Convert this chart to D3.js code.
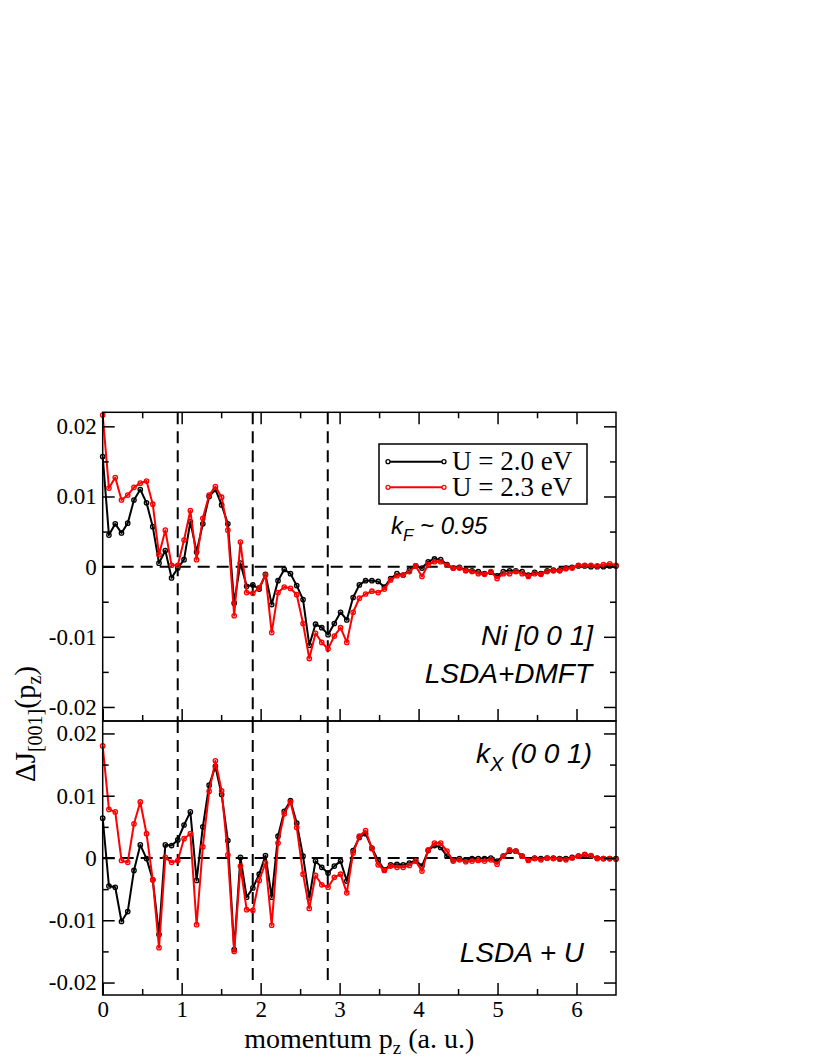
<!DOCTYPE html>
<html>
<head>
<meta charset="utf-8">
<script src="https://cdn.jsdelivr.net/npm/d3@7/dist/d3.min.js"></script>
<style>
  html, body { margin: 0; padding: 0; background: #fff; }
  svg { display: block; }
</style>
</head>
<body>
<svg id="chart" width="822" height="1064"></svg>
<script>
// ---------- data ----------
const pz = [0,0.079,0.159,0.238,0.317,0.396,0.476,0.555,0.634,0.713,0.793,0.872,0.951,1.030,1.110,1.189,1.268,1.348,1.427,1.506,1.585,1.665,1.744,1.823,1.902,1.982,2.061,2.140,2.220,2.299,2.378,2.457,2.537,2.616,2.695,2.774,2.854,2.933,3.012,3.091,3.171,3.250,3.329,3.409,3.488,3.567,3.646,3.726,3.805,3.884,3.963,4.043,4.122,4.201,4.280,4.360,4.439,4.518,4.598,4.677,4.756,4.835,4.915,4.994,5.073,5.152,5.232,5.311,5.390,5.470,5.549,5.628,5.707,5.787,5.866,5.945,6.024,6.104,6.183,6.262,6.341,6.421,6.500];

// top panel (LSDA+DMFT)
const dmftU20 = [0.0157,0.0045,0.0061,0.0048,0.0062,0.0095,0.0110,0.0091,0.0057,0.0005,0.0023,-0.0016,-0.0002,0.0010,0.0064,0.0021,0.0061,0.0100,0.0110,0.0088,0.0061,-0.0052,0.0005,-0.0028,-0.0026,-0.0032,-0.0011,-0.0054,-0.0020,-0.0004,-0.0010,-0.0027,-0.0047,-0.0112,-0.0082,-0.0087,-0.0097,-0.0081,-0.0065,-0.0076,-0.0044,-0.0026,-0.0020,-0.0020,-0.0021,-0.0029,-0.0017,-0.0010,-0.0012,-0.0005,0.0001,-0.0002,0.0007,0.0011,0.0010,0.0003,-0.0002,-0.0001,-0.0005,-0.0006,-0.0007,-0.0010,-0.0008,-0.0013,-0.0007,-0.0006,-0.0006,-0.0007,-0.0012,-0.0008,-0.0010,-0.0006,-0.0005,-0.0005,-0.0002,-0.0001,0.0001,0.0001,0.0000,0.0000,0.0000,0.0001,0.0001];
const dmftU23 = [0.0216,0.0112,0.0127,0.0095,0.0102,0.0113,0.0119,0.0122,0.0089,0.0017,0.0052,0.0002,0.0002,0.0038,0.0080,0.0010,0.0069,0.0102,0.0114,0.0099,0.0052,-0.0070,0.0035,-0.0037,-0.0038,-0.0030,-0.0012,-0.0094,-0.0037,-0.0029,-0.0031,-0.0040,-0.0081,-0.0131,-0.0095,-0.0108,-0.0117,-0.0099,-0.0087,-0.0108,-0.0065,-0.0045,-0.0039,-0.0035,-0.0037,-0.0032,-0.0019,-0.0013,-0.0012,-0.0007,0.0001,-0.0014,0.0003,0.0007,0.0007,0.0002,-0.0002,-0.0002,-0.0006,-0.0007,-0.0010,-0.0011,-0.0007,-0.0017,-0.0010,-0.0010,-0.0007,-0.0010,-0.0014,-0.0010,-0.0011,-0.0007,-0.0006,-0.0006,-0.0003,-0.0002,0.0002,0.0002,0.0002,0.0001,0.0003,0.0004,0.0002];

// bottom panel (LSDA + U)
const ldauU20 = [0.0064,-0.0045,-0.0047,-0.0102,-0.0086,-0.0020,0.0021,-0.0001,-0.0035,-0.0123,0.0021,0.0020,0.0029,0.0053,0.0074,-0.0036,0.0050,0.0117,0.0147,0.0102,0.0028,-0.0147,0.0001,-0.0063,-0.0048,-0.0026,0.0004,-0.0063,0.0035,0.0075,0.0092,0.0056,0.0003,-0.0064,-0.0005,-0.0015,-0.0024,-0.0013,-0.0005,-0.0037,0.0012,0.0033,0.0039,0.0016,-0.0004,-0.0019,-0.0011,-0.0010,-0.0011,-0.0008,-0.0004,-0.0013,0.0012,0.0020,0.0017,0.0003,-0.0003,-0.0001,-0.0003,-0.0001,-0.0001,-0.0001,0.0000,-0.0005,0.0003,0.0011,0.0011,0.0003,-0.0003,0.0000,-0.0001,0.0000,0.0000,-0.0001,-0.0001,0.0001,0.0003,0.0005,0.0003,0.0000,-0.0001,-0.0001,-0.0001];
const ldauU23 = [0.0180,0.0078,0.0074,-0.0004,-0.0007,0.0055,0.0090,0.0039,-0.0035,-0.0144,0.0001,-0.0007,-0.0004,0.0031,0.0039,-0.0107,0.0018,0.0107,0.0156,0.0108,0.0005,-0.0150,-0.0013,-0.0083,-0.0084,-0.0036,-0.0008,-0.0108,0.0024,0.0071,0.0090,0.0049,-0.0026,-0.0081,-0.0028,-0.0043,-0.0047,-0.0031,-0.0026,-0.0056,0.0008,0.0035,0.0044,0.0015,-0.0011,-0.0020,-0.0013,-0.0015,-0.0015,-0.0012,-0.0005,-0.0021,0.0013,0.0024,0.0024,0.0011,-0.0005,-0.0003,-0.0006,-0.0005,-0.0004,-0.0005,-0.0003,-0.0010,0.0003,0.0013,0.0011,0.0003,-0.0004,-0.0001,-0.0003,0.0000,-0.0001,-0.0002,-0.0003,0.0000,0.0003,0.0006,0.0004,-0.0001,-0.0001,-0.0001,-0.0002];

const seriesNames = ["U = 2.0 eV", "U = 2.3 eV"];
const seriesColors = ["#000000", "#ff0000"];
const kFLines = [0.95, 1.90, 2.85];
const xMajorTicks = [0, 1, 2, 3, 4, 5, 6];
const xMinorTicks = [0.5, 1.5, 2.5, 3.5, 4.5, 5.5];
const yMajorTicks = [-0.02, -0.01, 0, 0.01, 0.02];
const yMajorLabels = ["-0.02", "-0.01", "0", "0.01", "0.02"];
const yMinorTicks = [-0.015, -0.005, 0.005, 0.015];
const xTickLabels = ["0", "1", "2", "3", "4", "5", "6"];

// ---------- layout ----------
const svg = d3.select("#chart");
svg.append("rect").attr("width", 822).attr("height", 1064).attr("fill", "#fff");

const L = 102.7, R = 616;
const x = d3.scaleLinear().domain([0, 6.5]).range([L, R]);
const panels = [
  { y: d3.scaleLinear().domain([-0.022, 0.022]).range([721, 412.3]), series: [dmftU20, dmftU23], vEnd: -0.022, xlabels: false, topTicks: true },
  { y: d3.scaleLinear().domain([-0.022, 0.022]).range([995, 721]), series: [ldauU20, ldauU23], vEnd: -0.02, xlabels: true, topTicks: false }
];

const serif = "'Liberation Serif', 'Times New Roman', Times, serif";
const sans = "'Liberation Sans', Arial, Helvetica, sans-serif";
const MAJ = 12, MIN = 6;

function styleAxis(g) {
  g.style("font-family", serif);
  g.select(".domain").remove();
  g.selectAll(".tick line").attr("stroke", "#000").attr("stroke-width", 1.5);
  g.selectAll(".tick text").style("font-family", serif).style("font-size", "23px").attr("fill", "#000");
}

panels.forEach((p) => {
  const y = p.y;
  const top = y.range()[1], bot = y.range()[0];
  const g = svg.append("g");

  // dashed reference lines
  g.append("line").attr("x1", x(0)).attr("x2", x(6.5)).attr("y1", y(0)).attr("y2", y(0))
    .attr("stroke", "#000").attr("stroke-width", 2).attr("stroke-dasharray", "12,7");
  kFLines.forEach(k => {
    g.append("line").attr("x1", x(k)).attr("x2", x(k)).attr("y1", y(0.022)).attr("y2", y(p.vEnd))
      .attr("stroke", "#000").attr("stroke-width", 2).attr("stroke-dasharray", "12,7");
  });

  // series
  const line = d3.line().x((d, i) => x(pz[i])).y(d => y(d));
  p.series.forEach((s, si) => {
    g.append("path").datum(s).attr("d", line).attr("fill", "none")
      .attr("stroke", seriesColors[si]).attr("stroke-width", 2).attr("stroke-linejoin", "round");
    g.selectAll(null).data(s).enter().append("circle")
      .attr("cx", (d, i) => x(pz[i])).attr("cy", d => y(d)).attr("r", 2.2)
      .attr("fill", "none").attr("stroke", seriesColors[si]).attr("stroke-width", 1.3);
  });

  // axes: left
  g.append("g").attr("transform", `translate(${L},0)`)
    .call(d3.axisLeft(y).tickValues(yMinorTicks).tickFormat("").tickSize(-MIN)).call(styleAxis);
  g.append("g").attr("transform", `translate(${L},0)`)
    .call(d3.axisLeft(y).tickValues(yMajorTicks).tickFormat((d, i) => yMajorLabels[i]).tickSize(-MAJ).tickPadding(6)).call(styleAxis);
  // right
  g.append("g").attr("transform", `translate(${R},0)`)
    .call(d3.axisRight(y).tickValues(yMinorTicks).tickFormat("").tickSize(-MIN)).call(styleAxis);
  g.append("g").attr("transform", `translate(${R},0)`)
    .call(d3.axisRight(y).tickValues(yMajorTicks).tickFormat("").tickSize(-MAJ)).call(styleAxis);
  // bottom
  g.append("g").attr("transform", `translate(0,${bot})`)
    .call(d3.axisBottom(x).tickValues(xMinorTicks).tickFormat("").tickSize(-MIN)).call(styleAxis);
  const bx = g.append("g").attr("transform", `translate(0,${bot})`)
    .call(d3.axisBottom(x).tickValues(xMajorTicks).tickFormat((d, i) => p.xlabels ? xTickLabels[i] : "").tickSize(-MAJ).tickPadding(6)).call(styleAxis);
  if (!p.xlabels) bx.selectAll(".tick text").remove();
  if (p.topTicks) {
    g.append("g").attr("transform", `translate(0,${top})`)
      .call(d3.axisTop(x).tickValues(xMinorTicks).tickFormat("").tickSize(-MIN)).call(styleAxis);
    g.append("g").attr("transform", `translate(0,${top})`)
      .call(d3.axisTop(x).tickValues(xMajorTicks).tickFormat("").tickSize(-MAJ)).call(styleAxis);
  }
  g.selectAll(".tick text").filter(function () { return this.textContent === ""; }).remove();

  // frame
  g.append("rect").attr("x", L).attr("y", top).attr("width", R - L).attr("height", bot - top)
    .attr("fill", "none").attr("stroke", "#000").attr("stroke-width", 1.5);
});

// ---------- legend ----------
const lg = svg.append("g");
lg.append("rect").attr("x", 379).attr("y", 444).attr("width", 208).attr("height", 60)
  .attr("fill", "#fff").attr("stroke", "#000").attr("stroke-width", 1.5);
seriesNames.forEach((name, i) => {
  const ly = 461.7 + i * 25.6;
  lg.append("line").attr("x1", 388).attr("x2", 444).attr("y1", ly).attr("y2", ly)
    .attr("stroke", seriesColors[i]).attr("stroke-width", 2);
  [388, 444].forEach(cx => lg.append("circle").attr("cx", cx).attr("cy", ly).attr("r", 2)
    .attr("fill", "#fff").attr("stroke", seriesColors[i]).attr("stroke-width", 1.3));
  lg.append("text").attr("x", 452).attr("y", ly + 8.5).style("font-family", serif).style("font-size", "27px")
    .attr("fill", "#000").text(name);
});

// ---------- annotations ----------
const kf = svg.append("text").attr("x", 391).attr("y", 534).style("font-family", sans)
  .style("font-style", "italic").style("font-size", "24px").attr("fill", "#000");
kf.append("tspan").text("k");
kf.append("tspan").style("font-size", "17px").attr("dy", 7).text("F");
kf.append("tspan").attr("dy", -7).text(" ~ 0.95");

svg.append("text").attr("x", 593).attr("y", 645).attr("text-anchor", "end").style("font-family", sans)
  .style("font-style", "italic").style("font-size", "28px").text("Ni [0 0 1]");
svg.append("text").attr("x", 592).attr("y", 683).attr("text-anchor", "end").style("font-family", sans)
  .style("font-style", "italic").style("font-size", "28px").text("LSDA+DMFT");

const kx = svg.append("text").attr("x", 592).attr("y", 763).attr("text-anchor", "end").style("font-family", sans)
  .style("font-style", "italic").style("font-size", "28px").attr("fill", "#000");
kx.append("tspan").text("k");
kx.append("tspan").style("font-size", "20px").attr("dy", 8).text("X");
kx.append("tspan").attr("dy", -8).text(" (0 0 1)");

svg.append("text").attr("x", 584).attr("y", 962).attr("text-anchor", "end").style("font-family", sans)
  .style("font-style", "italic").style("font-size", "28px").text("LSDA + U");

// ---------- axis titles ----------
const xt = svg.append("text").attr("x", (L + R) / 2).attr("y", 1048).attr("text-anchor", "middle")
  .style("font-family", serif).style("font-size", "28px").attr("fill", "#000");
xt.append("tspan").text("momentum p");
xt.append("tspan").style("font-size", "19px").attr("dy", 6).text("z");
xt.append("tspan").attr("dy", -6).text(" (a. u.)");

const yt = svg.append("text").attr("transform", "translate(35,724) rotate(-90)").attr("text-anchor", "middle")
  .style("font-family", serif).style("font-size", "29px").attr("fill", "#000");
yt.append("tspan").text("ΔJ");
yt.append("tspan").style("font-size", "20px").attr("dy", 7).text("[001]");
yt.append("tspan").attr("dy", -7).text("(p");
yt.append("tspan").style("font-size", "20px").attr("dy", 6).text("z");
yt.append("tspan").attr("dy", -6).text(")");
</script>
</body>
</html>
